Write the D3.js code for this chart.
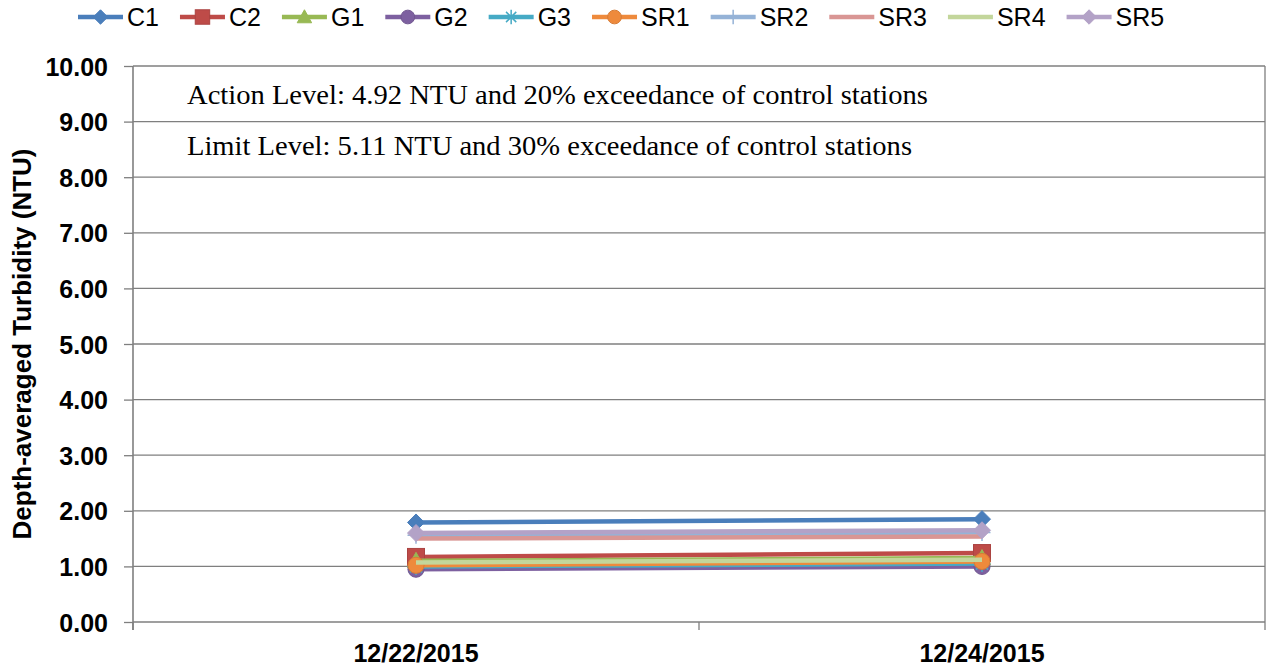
<!DOCTYPE html>
<html><head><meta charset="utf-8">
<script src="https://cdn.jsdelivr.net/npm/d3@7"></script>
<style>body{margin:0;background:#fff}</style></head>
<body>
<svg id="c" width="1269" height="670"></svg>
<script>
// ---- data ----
const categories = ["12/22/2015", "12/24/2015"];
const seriesNames = ["C1", "C2", "G1", "G2", "G3", "SR1", "SR2", "SR3", "SR4", "SR5"];
const C1  = [1.79, 1.85];
const C2  = [1.17, 1.24];
const G1  = [1.10, 1.15];
const G2  = [0.95, 1.00];
const G3  = [1.00, 1.05];
const SR1 = [1.02, 1.09];
const SR2 = [1.56, 1.61];
const SR3 = [1.50, 1.54];
const SR4 = [1.07, 1.12];
const SR5 = [1.60, 1.65];
const yTicks = [0, 1, 2, 3, 4, 5, 6, 7, 8, 9, 10];
const notes = ["Action Level: 4.92 NTU and 20% exceedance of control stations",
               "Limit Level: 5.11 NTU and 30% exceedance of control stations"];
const yTitle = "Depth-averaged Turbidity (NTU)";

// ---- styles ----
const seriesValues = [C1, C2, G1, G2, G3, SR1, SR2, SR3, SR4, SR5];
const colors = ["#4A7EBB", "#BE4B48", "#98B954", "#7D60A0", "#46AAC5",
                "#EE8A3C", "#95B3D7", "#D99694", "#C3D69B", "#B3A2C7"];
const markers = ["diamond", "square", "triangle", "circle", "asterisk",
                 "circle", "plus", "none", "none", "diamond"];

const svg = d3.select("#c");
const m = {left: 133, right: 1265, top: 66, bottom: 622};

const x = d3.scaleBand().domain(categories).range([m.left, m.right]).padding(0);
const y = d3.scaleLinear().domain([0, 10]).range([m.bottom, m.top]);
const cx = d => x(d) + x.bandwidth() / 2;

// gridlines
svg.append("g").selectAll("line").data(yTicks.filter(t => t > 0)).join("line")
  .attr("x1", m.left).attr("x2", m.right)
  .attr("y1", d => y(d)).attr("y2", d => y(d))
  .attr("stroke", "#7f7f7f").attr("stroke-width", 1.3);
// right border
svg.append("line").attr("x1", m.right).attr("x2", m.right)
  .attr("y1", m.top).attr("y2", m.bottom).attr("stroke", "#7f7f7f").attr("stroke-width", 1.3);

// y axis
const yAxis = d3.axisLeft(y).tickValues(yTicks).tickSize(9).tickPadding(16)
  .tickFormat(d3.format(".2f"));
const gy = svg.append("g").attr("transform", `translate(${m.left},0)`).call(yAxis);
gy.select(".domain").attr("stroke", "#7f7f7f").attr("stroke-width", 1.6)
  .attr("d", `M0,${m.top}V${m.bottom + 8}`);
gy.selectAll(".tick line").attr("stroke", "#7f7f7f").attr("stroke-width", 1.3);
gy.selectAll(".tick text").attr("font-family", "Liberation Sans, Arial, sans-serif")
  .attr("font-size", 25).attr("font-weight", "bold").attr("fill", "#000").attr("dy", "0.36em");

// x axis
const gx = svg.append("g").attr("transform", `translate(0,${m.bottom})`);
gx.append("line").attr("x1", m.left).attr("x2", m.right).attr("stroke", "#7f7f7f").attr("stroke-width", 1.6);
const bounds = categories.map(c => x(c)).concat([m.right]);
gx.selectAll("line.tk").data(bounds).join("line").attr("class", "tk")
  .attr("x1", d => d).attr("x2", d => d).attr("y1", 0).attr("y2", 8)
  .attr("stroke", "#7f7f7f").attr("stroke-width", 1.3);
gx.selectAll("text").data(categories).join("text")
  .attr("x", d => cx(d)).attr("y", 40).attr("text-anchor", "middle")
  .attr("font-family", "Liberation Sans, Arial, sans-serif").attr("font-size", 25)
  .attr("font-weight", "bold").text(d => d);

// y title
svg.append("text").attr("transform", `translate(31,${(m.top + m.bottom) / 2}) rotate(-90)`)
  .attr("text-anchor", "middle").attr("font-family", "Liberation Sans, Arial, sans-serif")
  .attr("font-size", 26).attr("font-weight", "bold").text(yTitle);

// notes
const noteLen = [741, 725];
svg.selectAll("text.note").data(notes).join("text").attr("class", "note")
  .attr("x", 187).attr("y", (d, i) => [104, 155][i])
  .attr("font-family", "'Palatino Linotype','Book Antiqua','Liberation Serif',serif")
  .attr("font-size", 27).attr("textLength", (d, i) => noteLen[i])
  .attr("lengthAdjust", "spacingAndGlyphs").text(d => d);

// marker drawing
function drawMarker(g, type, color, px, py, k = 1) {
  const s = 8.5 * k;
  if (type === "diamond") {
    g.append("path").attr("d", `M${px},${py - s}L${px + s},${py}L${px},${py + s}L${px - s},${py}Z`)
      .attr("fill", color).attr("stroke", color).attr("stroke-width", 1);
  } else if (type === "square") {
    g.append("rect").attr("x", px - s).attr("y", py - s).attr("width", 2 * s).attr("height", 2 * s)
      .attr("fill", color).attr("stroke", d3.color(color).darker(0.3)).attr("stroke-width", 1);
  } else if (type === "triangle") {
    g.append("path").attr("d", `M${px},${py - s}L${px + s},${py + s * 0.8}L${px - s},${py + s * 0.8}Z`)
      .attr("fill", color).attr("stroke", color).attr("stroke-width", 1);
  } else if (type === "circle") {
    g.append("circle").attr("cx", px).attr("cy", py).attr("r", s * 0.95)
      .attr("fill", color).attr("stroke", d3.color(color).darker(0.3)).attr("stroke-width", 1);
  } else if (type === "asterisk") {
    const r = s;
    const d = [0, 45, 90, 135].map(a => {
      const t = a * Math.PI / 180;
      return `M${px - r * Math.cos(t)},${py - r * Math.sin(t)}L${px + r * Math.cos(t)},${py + r * Math.sin(t)}`;
    }).join("");
    g.append("path").attr("d", d).attr("stroke", color).attr("stroke-width", 1.5).attr("fill", "none");
  } else if (type === "plus") {
    g.append("path").attr("d", `M${px - s},${py}H${px + s}M${px},${py - s}V${py + s}`)
      .attr("stroke", color).attr("stroke-width", 1.5).attr("fill", "none");
  }
}

// series
const line = d3.line().x((d, i) => cx(categories[i])).y(d => y(d));
const gs = svg.append("g");
seriesValues.forEach((vals, si) => {
  const g = gs.append("g");
  g.append("path").datum(vals).attr("d", line).attr("fill", "none")
    .attr("stroke", colors[si]).attr("stroke-width", 4.5);
  vals.forEach((v, i) => drawMarker(g, markers[si], colors[si], cx(categories[i]), y(v)));
});

// legend
const lg = svg.append("g");
let lx = 78;
const ly = 17;
seriesNames.forEach((name, si) => {
  const g = lg.append("g");
  g.append("line").attr("x1", lx).attr("x2", lx + 45).attr("y1", ly).attr("y2", ly)
    .attr("stroke", colors[si]).attr("stroke-width", 4.5);
  drawMarker(g, markers[si], colors[si], lx + 22.5, ly, 0.85);
  const t = g.append("text").attr("x", lx + 49).attr("y", 26)
    .attr("font-family", "Liberation Sans, Arial, sans-serif").attr("font-size", 25).text(name);
  lx += 49 + t.node().getComputedTextLength() + 21;
});
</script>
</body></html>
